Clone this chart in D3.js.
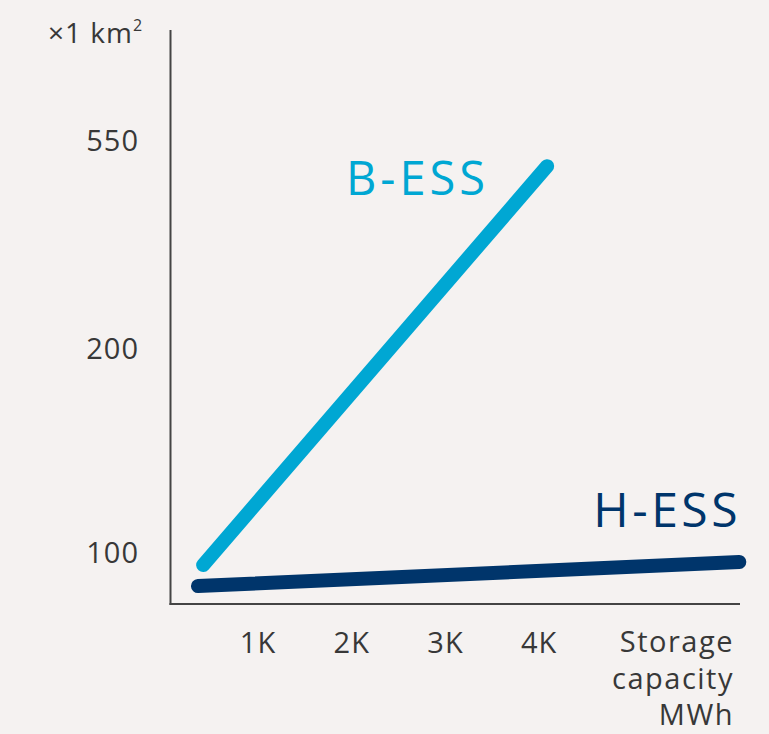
<!DOCTYPE html>
<html>
<head>
<meta charset="utf-8">
<script src="https://cdn.jsdelivr.net/npm/d3@7"></script>
<style>
  html, body { margin: 0; padding: 0; background: #f5f2f1; }
  svg { display: block; }
  text { font-family: "Open Sans", "Noto Sans", sans-serif; fill: #383838; }
</style>
</head>
<body>
<svg id="chart" width="769" height="734"></svg>
<script>
// Storage capacity (thousand MWh) and land area (×1 km²) per storage system
const seriesNames = ["B-ESS", "H-ESS"];
const bessCapacity = [0.42, 4.09];
const bessArea = [93.6, 506];
const hessCapacity = [0.365, 6.14];
const hessArea = [83.3, 95.1];

const xTickValues = [1, 2, 3, 4];
const xTickLabels = ["1K", "2K", "3K", "4K"];
const yTickValues = [100, 200, 550];
const yTickLabels = ["100", "200", "550"];
const yUnitLabel = "×1 km";
const xTitleLines = ["Storage", "capacity", "MWh"];

const colors = { "B-ESS": "#00a7d3", "H-ESS": "#00356b" };

const svg = d3.select("#chart");
const frame = { left: 170.5, top: 30, right: 740, bottom: 604 };

// Horizontal scale: thousands of MWh
const x = d3.scaleLinear().domain([1, 4]).range([257.5, 538.7]);
// Vertical scale: piecewise, broken between the labelled levels
const y = d3.scaleLinear().domain([100, 200, 550]).range([552, 348, 140]);

// Axis lines
svg.append("line")
  .attr("x1", frame.left).attr("x2", frame.left)
  .attr("y1", frame.top).attr("y2", frame.bottom + 1)
  .attr("stroke", "#444").attr("stroke-width", 2);
svg.append("line")
  .attr("x1", frame.left - 1).attr("x2", frame.right)
  .attr("y1", frame.bottom).attr("y2", frame.bottom)
  .attr("stroke", "#444").attr("stroke-width", 2);

// Y ticks
const yAxis = d3.axisLeft(y)
  .tickValues(yTickValues)
  .tickFormat((d, i) => yTickLabels[i])
  .tickSize(0).tickPadding(0);
const gy = svg.append("g").attr("transform", "translate(139,0)").call(yAxis);
gy.select(".domain").remove();
gy.selectAll("text")
  .attr("font-size", 29)
  .attr("letter-spacing", 1)
  .attr("font-family", null)
  .attr("fill", "#383838")
  .attr("dy", "0.36em");

// Unit label above the y axis
const unit = svg.append("text")
  .attr("x", 48).attr("y", 43)
  .attr("font-size", 28)
  .attr("letter-spacing", 1);
unit.append("tspan").text(yUnitLabel);
unit.append("tspan").text("2").attr("font-size", 16).attr("dy", -12);

// X ticks
const xAxis = d3.axisBottom(x)
  .tickValues(xTickValues)
  .tickFormat((d, i) => xTickLabels[i])
  .tickSize(0).tickPadding(0);
const gx = svg.append("g").attr("transform", "translate(0,653)").call(xAxis);
gx.select(".domain").remove();
gx.selectAll("text")
  .attr("font-size", 29)
  .attr("letter-spacing", 1)
  .attr("font-family", null)
  .attr("fill", "#383838")
  .attr("dy", 0);

// X axis title, right-aligned in three lines
svg.append("text")
  .attr("text-anchor", "end")
  .attr("font-size", 29)
  .attr("letter-spacing", 1.5)
  .selectAll("tspan")
  .data(xTitleLines)
  .join("tspan")
  .attr("x", 734)
  .attr("y", (d, i) => 652 + i * 36.5)
  .text(d => d);

// Series lines
const series = [
  { name: "B-ESS", xs: bessCapacity, ys: bessArea, width: 14 },
  { name: "H-ESS", xs: hessCapacity, ys: hessArea, width: 14 }
];
const line = d3.line().x(d => x(d[0])).y(d => y(d[1]));
svg.selectAll("path.series")
  .data(series)
  .join("path")
  .attr("class", "series")
  .attr("d", s => line(s.xs.map((v, i) => [v, s.ys[i]])))
  .attr("fill", "none")
  .attr("stroke", s => colors[s.name])
  .attr("stroke-width", s => s.width)
  .attr("stroke-linecap", "round");

// Series labels
svg.append("text")
  .attr("x", 346).attr("y", 195)
  .attr("font-size", 47)
  .attr("letter-spacing", 4)
  .style("fill", colors["B-ESS"])
  .text(seriesNames[0]);
svg.append("text")
  .attr("x", 741).attr("y", 527)
  .attr("text-anchor", "end")
  .attr("font-size", 48)
  .attr("letter-spacing", 3.5)
  .style("fill", colors["H-ESS"])
  .text(seriesNames[1]);
</script>
</body>
</html>
